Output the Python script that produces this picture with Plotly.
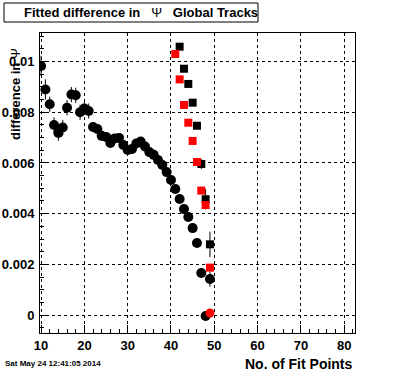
import plotly.graph_objects as go

# ---- data ----
circ_x = [10, 11, 12, 13, 14, 15, 16, 17, 18, 19, 20, 21, 22, 23, 24, 25, 26, 27, 28, 29,
          30, 31, 32, 33, 34, 35, 36, 37, 38, 39, 40, 41, 42, 43, 44, 45, 46, 47, 48, 49]
circ_y = [0.00983, 0.00890, 0.00832, 0.00750, 0.00718, 0.00740, 0.00818, 0.00870, 0.00867, 0.00800,
          0.00815, 0.00805, 0.00742, 0.00734, 0.00707, 0.00703, 0.00679, 0.00697, 0.00699, 0.00671,
          0.00651, 0.00655, 0.00677, 0.00685, 0.00665, 0.00643, 0.00632, 0.00612, 0.00592, 0.00564,
          0.00533, 0.00497, 0.00458, 0.00418, 0.00387, 0.00343, 0.00284, 0.00166, -0.00004, 0.00142]
circ_err = [0.0004, 0.0004, 0.0003, 0.0003, 0.0003, 0.0003, 0.0003, 0.0003, 0.0003, 0.0003,
            0.00025, 0.0003, 0.0002, 0.0002, 0.0002, 0.00015, 0.0001, 0.0001, 0.0001, 0.0001,
            0.0001, 0.0001, 0.0001, 0.0001, 0.0001, 0.0001, 0.0001, 0.0001, 0.0001, 0.0001,
            0.0001, 0.0001, 0.0001, 0.0001, 0.0001, 0.0001, 0.0001, 0.0002, 0.0002, 0.0003]

bsq_x = [42, 43, 44, 45, 46, 47, 48, 49]
bsq_y = [0.01059, 0.00972, 0.00912, 0.00838, 0.00747, 0.00596, 0.00457, 0.00279]
bsq_err = [0.0, 0.0, 0.0, 0.0, 0.0, 0.0002, 0.0004, 0.0005]

rsq_x = [41, 42, 43, 44, 45, 46, 47, 48, 49]
rsq_y = [0.01030, 0.00930, 0.00829, 0.00759, 0.00687, 0.00604, 0.00491, 0.00434, 0.00187]

rcirc_x = [49]
rcirc_y = [0.00008]

y_tickvals = [0, 0.002, 0.004, 0.006, 0.008, 0.01]
y_ticktext = ["0", "0.002", "0.004", "0.006", "0.008", "0.01"]
x_tickvals = [10, 20, 30, 40, 50, 60, 70, 80]

title_text = "Fitted difference in   <span style='font-weight:normal'>Ψ</span>   Global Tracks"
ytitle_text = "difference in <span style='font-weight:normal'>Ψ</span>"
xtitle_text = "No. of Fit Points"
date_text = "Sat May 24 12:41:05 2014"

FONT = "Liberation Sans, Arial, sans-serif"

fig = go.Figure()
fig.add_trace(go.Scatter(
    x=circ_x, y=circ_y, mode="markers",
    marker=dict(symbol="circle", size=10, color="black"),
    error_y=dict(type="data", array=circ_err, width=0, thickness=1, color="black"),
    showlegend=False))
fig.add_trace(go.Scatter(
    x=bsq_x, y=bsq_y, mode="markers",
    marker=dict(symbol="square", size=8, color="black"),
    error_y=dict(type="data", array=bsq_err, width=0, thickness=1, color="black"),
    showlegend=False))
fig.add_trace(go.Scatter(
    x=rsq_x, y=rsq_y, mode="markers",
    marker=dict(symbol="square", size=8, color="#ff0000"),
    showlegend=False))
fig.add_trace(go.Scatter(
    x=rcirc_x, y=rcirc_y, mode="markers",
    marker=dict(symbol="circle", size=9, color="#ff0000"),
    showlegend=False))

W, H = 396, 372
L, R, T, B = 40, 41, 33, 39
pw, ph = W - L - R, H - T - B

def px_x(p):
    return (p - L) / pw

def px_y(p):
    return (H - B - p) / ph

fig.update_layout(
    width=W, height=H,
    margin=dict(l=L, r=R, t=T, b=B, pad=0, autoexpand=False),
    paper_bgcolor="white", plot_bgcolor="white",
    font=dict(family=FONT, color="black"),
    xaxis=dict(
        range=[9.75, 82.5], tickvals=x_tickvals, ticks="inside", ticklen=8,
        tickcolor="black", tickwidth=1, automargin=False,
        minor=dict(dtick=2, ticks="inside", ticklen=4, tickcolor="black", showgrid=False),
        showgrid=True, gridcolor="black", griddash="dot", gridwidth=1,
        showline=True, linecolor="black", linewidth=1, mirror=True,
        zeroline=False, tickfont=dict(size=13, weight="bold", family=FONT),
    ),
    yaxis=dict(
        range=[-0.00071, 0.01113], tickvals=y_tickvals, ticktext=y_ticktext,
        ticks="inside", ticklen=8, tickcolor="black", tickwidth=1, automargin=False,
        minor=dict(dtick=0.0005, ticks="inside", ticklen=4, tickcolor="black", showgrid=False),
        showgrid=True, gridcolor="black", griddash="dot", gridwidth=1,
        showline=True, linecolor="black", linewidth=1, mirror=True,
        zeroline=False, tickfont=dict(size=13, weight="bold", family=FONT),
        ticklabelstandoff=2,
    ),
    shapes=[dict(type="rect", xref="paper", yref="paper",
                 x0=px_x(4), x1=px_x(258), y0=px_y(22), y1=px_y(3),
                 line=dict(color="black", width=1), fillcolor="white", layer="above")],
    annotations=[
        dict(text=title_text, xref="paper", yref="paper", x=px_x(22), y=px_y(12.5),
             xanchor="left", yanchor="middle", showarrow=False,
             font=dict(size=13, weight="bold", family=FONT)),
        dict(text=ytitle_text, xref="paper", yref="paper", x=px_x(15), y=px_y(46),
             xanchor="center", yanchor="top", textangle=-90, showarrow=False,
             font=dict(size=13, weight="bold", family=FONT)),
        dict(text=xtitle_text, xref="paper", yref="paper", x=px_x(355), y=px_y(364),
             xanchor="right", yanchor="middle", showarrow=False,
             font=dict(size=14, weight="bold", family=FONT)),
        dict(text=date_text, xref="paper", yref="paper", x=px_x(3), y=px_y(363),
             xanchor="left", yanchor="middle", showarrow=False,
             font=dict(size=8, weight="bold", family=FONT)),
    ],
)

fig.write_html("out.html", config={"displayModeBar": False},
               post_script="document.body.style.margin='0';document.body.style.overflow='hidden';")
